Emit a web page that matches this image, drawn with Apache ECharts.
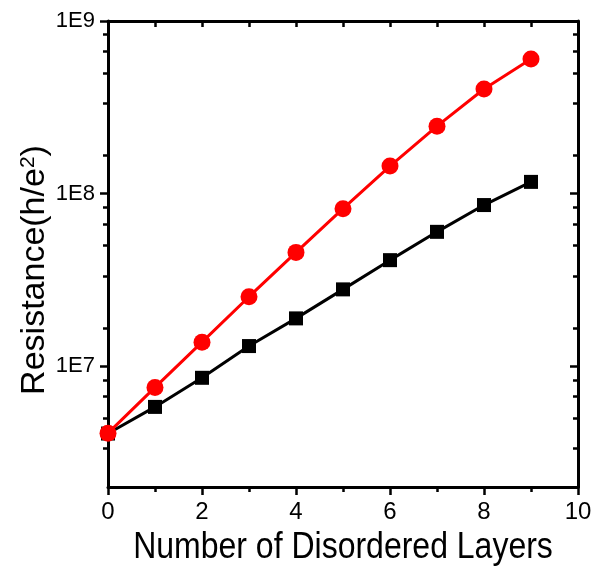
<!DOCTYPE html>
<html>
<head>
<meta charset="utf-8">
<script src="https://cdn.jsdelivr.net/npm/echarts@6/dist/echarts.min.js"></script>
<style>
  html, body { margin: 0; padding: 0; background: #ffffff; }
  #chart { width: 592px; height: 568px; }
</style>
</head>
<body>
<div id="chart"></div>
<script>
// Number of disordered layers (x) and resistance in units of h/e^2 (y, log scale)
const layers = [0, 1, 2, 3, 4, 5, 6, 7, 8, 9];
const blackSquares = [4.08e6, 5.82e6, 8.58e6, 1.31e7, 1.895e7, 2.79e7, 4.12e7, 6.01e7, 8.59e7, 1.17e8];
const redCircles = [4.1e6, 7.55e6, 1.38e7, 2.53e7, 4.57e7, 8.18e7, 1.445e8, 2.46e8, 4.04e8, 6.02e8];

// Axis ticks
const yMajorTicks = [1e7, 1e8, 1e9];
const yMinorTicks = [
  3.333e6, 5e6, 6.667e6, 8.333e6,
  1.667e7, 3.333e7, 5e7, 6.667e7, 8.333e7,
  1.667e8, 3.333e8, 5e8, 6.667e8, 8.333e8
];
const xTopTicks = [0, 1, 2, 3, 4, 5, 6, 7, 8, 9, 10];

const yMin = 2e6, yMax = 1e9;
const xMin = 0, xMax = 10;

const xTitle = 'Number of Disordered Layers';
const yTitle = 'Resistance(h/e{sup|2})';

const regular = "'Liberation Sans', Arial, sans-serif";
const axisLineStyle = { color: '#000', width: 3 };

const chart = echarts.init(document.getElementById('chart'), null, { renderer: 'canvas' });

function logAxis(position, inside, ticks, length, withLine, withLabels) {
  return {
    type: 'log',
    logBase: 10,
    position: position,
    min: yMin,
    max: yMax,
    axisLine: { show: withLine, lineStyle: axisLineStyle },
    axisTick: {
      show: true, inside: inside, length: length, customValues: ticks,
      lineStyle: { color: '#000', width: 2.5 }
    },
    axisLabel: withLabels ? {
      show: true, customValues: ticks, margin: 13,
      fontFamily: regular, fontSize: 22, color: '#000',
      formatter: v => '1E' + Math.round(Math.log10(v))
    } : { show: false },
    splitLine: { show: false },
    minorTick: { show: false },
    minorSplitLine: { show: false }
  };
}

chart.setOption({
  animation: false,
  backgroundColor: '#ffffff',
  grid: { left: 108, right: 14, top: 21, bottom: 81, containLabel: false, outerBoundsMode: 'none' },
  xAxis: [
    {
      type: 'value', position: 'bottom', min: xMin, max: xMax, interval: 2,
      axisLine: { show: true, onZero: false, lineStyle: axisLineStyle },
      axisTick: { show: true, inside: false, length: 8, lineStyle: { color: '#000', width: 2.5 } },
      minorTick: { show: true, splitNumber: 2, length: 5, lineStyle: { color: '#000', width: 2.5 } },
      axisLabel: { show: true, margin: 13, fontFamily: regular, fontSize: 24, color: '#000' },
      splitLine: { show: false }
    },
    {
      type: 'value', position: 'top', min: xMin, max: xMax,
      axisLine: { show: true, onZero: false, lineStyle: axisLineStyle },
      axisTick: { show: true, inside: true, length: 6, customValues: xTopTicks, lineStyle: { color: '#000', width: 2.5 } },
      axisLabel: { show: false },
      splitLine: { show: false }
    }
  ],
  yAxis: [
    logAxis('left', false, yMajorTicks, 8, true, true),
    logAxis('left', false, yMinorTicks, 5, false, false),
    logAxis('right', true, yMajorTicks, 8, true, false),
    logAxis('right', true, yMinorTicks, 5, false, false)
  ],
  graphic: [
    {
      // x-axis title, slightly tall lettering
      type: 'text',
      x: 343,
      y: 548,
      scaleY: 1.16,
      style: {
        text: xTitle,
        fontFamily: regular,
        fontSize: 32,
        fill: '#000',
        align: 'center',
        verticalAlign: 'middle'
      }
    },
    {
      // y-axis title, read bottom to top
      type: 'text',
      x: 35,
      y: 270,
      rotation: Math.PI / 2,
      style: {
        text: yTitle,
        fontFamily: regular,
        fontSize: 34,
        fill: '#000',
        align: 'center',
        verticalAlign: 'middle',
        rich: {
          sup: { fontFamily: regular, fontSize: 21, fill: '#000', verticalAlign: 'top', padding: [0, 0, 14, 0] }
        }
      }
    }
  ],
  series: [
    {
      name: 'black',
      type: 'line',
      xAxisIndex: 0,
      yAxisIndex: 0,
      data: layers.map((x, i) => [x, blackSquares[i]]),
      symbol: 'rect',
      symbolSize: 14,
      showAllSymbol: true,
      lineStyle: { color: '#000', width: 3 },
      itemStyle: { color: '#000' },
      clip: false,
      z: 3
    },
    {
      name: 'red',
      type: 'line',
      xAxisIndex: 0,
      yAxisIndex: 0,
      data: layers.map((x, i) => [x, redCircles[i]]),
      symbol: 'circle',
      symbolSize: 17,
      showAllSymbol: true,
      lineStyle: { color: '#ff0000', width: 3 },
      itemStyle: { color: '#ff0000' },
      clip: false,
      z: 4
    }
  ]
});
</script>
</body>
</html>
